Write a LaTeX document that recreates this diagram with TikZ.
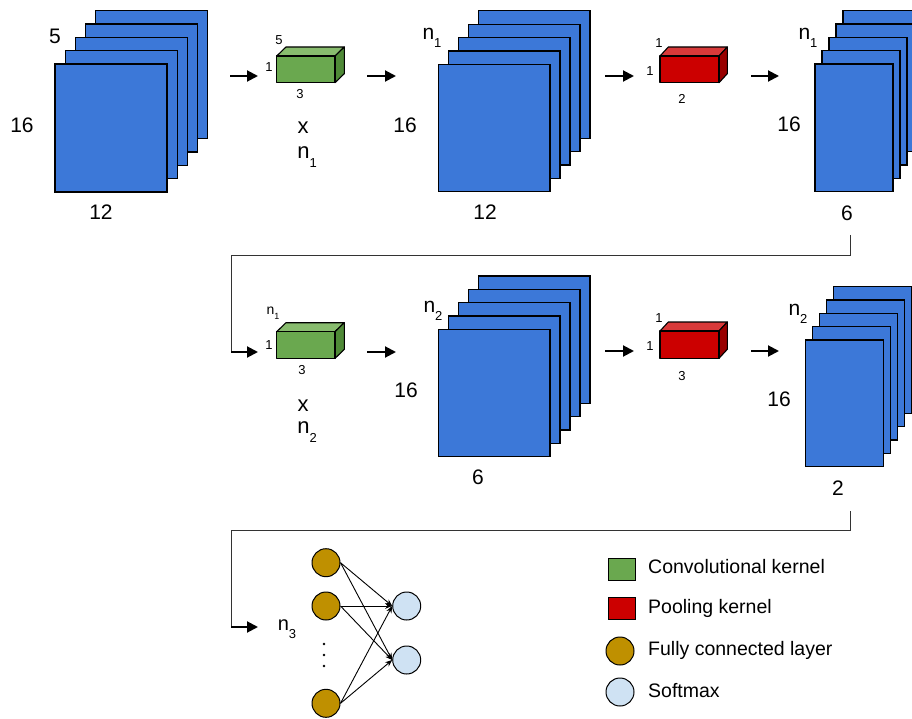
\documentclass[tikz,border=0pt]{standalone}
\usepackage{fontspec}
\setmainfont{Liberation Sans}
\usetikzlibrary{arrows.meta}
\definecolor{fmblue}{HTML}{3C78D8}
\definecolor{kgreen}{HTML}{6AA84F}
\definecolor{kgreentop}{HTML}{88BC6E}
\definecolor{kgreenside}{HTML}{4F8A37}
\definecolor{kred}{HTML}{CC0000}
\definecolor{kredtop}{HTML}{D83A3A}
\definecolor{kredside}{HTML}{990000}
\definecolor{fcbrown}{HTML}{BF9000}
\definecolor{smblue}{HTML}{CFE2F3}
\definecolor{connc}{HTML}{333333}
\newcommand\fmsub[1]{\raisebox{-0.4em}{\fontsize{13}{13}\selectfont #1}}
\newcommand\fmssub[1]{\raisebox{-0.35em}{\fontsize{9}{9}\selectfont #1}}
% stack: name, x, y (top-left of front), w, h, dx
\newcommand\fmstack[6]{%
  \foreach \i in {4,3,2,1,0}{%
    \node[layer, minimum width=#4pt, minimum height=#5pt] (#1-\i) at (#2+\i*#6, #3-\i*13.35) {};
  }%
}
% kernel: name, x, y, w, h, dx, dy, colour prefix
\newcommand\fmkernel[8]{%
  \filldraw[kedge, fill=#8top] (#2,#3) -- (#2+#6,#3-#7) -- (#2+#4+#6,#3-#7) -- (#2+#4,#3) -- cycle;
  \filldraw[kedge, fill=#8side] (#2+#4,#3) -- (#2+#4+#6,#3-#7) -- (#2+#4+#6,#3+#5-#7) -- (#2+#4,#3+#5) -- cycle;
  \node[kedge, fill=#8, anchor=north west, minimum width=#4pt, minimum height=#5pt, inner sep=0pt, outer sep=0pt] (#1) at (#2,#3) {};
}
\begin{document}
\begin{tikzpicture}[x=1pt, y=-1pt,
  layer/.style={draw=black, line width=1.2pt, fill=fmblue, anchor=north west, inner sep=0pt, outer sep=0pt},
  kedge/.style={draw=black, line width=1.1pt, line join=round},
  big/.style={font=\fontsize{21}{21}\selectfont, inner sep=0pt},
  xlab/.style={font=\fontsize{22}{22}\selectfont, inner sep=0pt},
  small/.style={font=\fontsize{13}{13}\selectfont, inner sep=0pt},
  leg/.style={font=\fontsize{19.5}{19.5}\selectfont, inner sep=0pt, anchor=west},
  flow/.style={line width=2pt, -{Triangle[length=11pt, width=11pt]}},
  conn/.style={draw=connc, line width=1pt},
  fc/.style={circle, draw=black, line width=1pt, fill=fcbrown, minimum size=28pt, inner sep=0pt},
  sm/.style={circle, draw=black, line width=1pt, fill=smblue, minimum size=28pt, inner sep=0pt},
  dotn/.style={circle, fill=black, minimum size=2.6pt, inner sep=0pt},
  nn/.style={line width=0.9pt, -{Stealth[length=7pt, width=5.5pt]}}]
\useasboundingbox (0,0) rectangle (912,719);

% ---------- row 1 ----------
\fmstack{s1}{55}{64}{112}{128}{10.2}
\node[big] (s1d) at (55,36) {5};
\node[big] (s1h) at (22,125) {16};
\node[big] (s1w) at (101,212) {12};

\fmkernel{k1}{276.7}{56}{58.3}{26.7}{9.3}{9}{kgreen}
\node[small] (k1d) at (279,40) {5};
\node[small] (k1h) at (269,67) {1};
\node[small] (k1w) at (300,94) {3};
\node[xlab] (k1x) at (303,128) {x};
\node[xlab] (k1n) at (307,157) {n\fmsub{1}};

\fmstack{s2}{438.3}{64.3}{111.7}{127.4}{10}
\node[big] (s2d) at (432,38) {n\fmsub{1}};
\node[big] (s2h) at (405,125) {16};
\node[big] (s2w) at (485,212) {12};

\fmkernel{r1}{660}{56}{59}{26.7}{8.3}{9}{kred}
\node[small] (r1d) at (659,43) {1};
\node[small] (r1h) at (650,71) {1};
\node[small] (r1w) at (682,99) {2};

\fmstack{s3}{815}{64}{78}{127.7}{7}
\node[big] (s3d) at (808,38) {n\fmsub{1}};
\node[big] (s3h) at (789,124) {16};
\node[big] (s3w) at (847,213) {6};

\coordinate (a1s) at (230,76); \coordinate (a1e) at (258,76);
\coordinate (a2s) at (367,76); \coordinate (a2e) at (396,76);
\coordinate (a3s) at (605,76); \coordinate (a3e) at (634,76);
\coordinate (a4s) at (751,76); \coordinate (a4e) at (779,76);
\draw[flow] (a1s) -- (a1e);
\draw[flow] (a2s) -- (a2e);
\draw[flow] (a3s) -- (a3e);
\draw[flow] (a4s) -- (a4e);

% connector 1
\coordinate (c1a) at (850,235);
\coordinate (c1b) at (231,352);
\coordinate (c1e) at (258,352);
\draw[conn] (c1a) |- (231,255) -- (c1b);
\draw[flow] (c1b) -- (c1e);

% ---------- row 2 ----------
\fmkernel{k2}{276.7}{331.7}{58.3}{26.7}{9.3}{9}{kgreen}
\node[font=\fontsize{14}{14}\selectfont, inner sep=0pt] (k2d) at (273,313) {n\fmssub{1}};
\node[small] (k2h) at (269,345) {1};
\node[small] (k2w) at (302,370) {3};
\node[xlab] (k2x) at (303,406) {x};
\node[xlab] (k2n) at (307,432) {n\fmsub{2}};

\fmstack{s4}{438.3}{329.3}{111.7}{127.4}{10}
\node[big] (s4d) at (433,311) {n\fmsub{2}};
\node[big] (s4h) at (406,390) {16};
\node[big] (s4w) at (478,477) {6};

\fmkernel{r2}{660}{331}{59}{27.3}{8.3}{9}{kred}
\node[small] (r2d) at (659,318) {1};
\node[small] (r2h) at (650,346) {1};
\node[small] (r2w) at (682,376) {3};

\fmstack{s5}{805.3}{340}{78.4}{126.7}{7}
\node[big] (s5d) at (798,314) {n\fmsub{2}};
\node[big] (s5h) at (779,399) {16};
\node[big] (s5w) at (838,488) {2};

\coordinate (a5s) at (367,352); \coordinate (a5e) at (396,352);
\coordinate (a6s) at (605,351); \coordinate (a6e) at (634,351);
\coordinate (a7s) at (751,351); \coordinate (a7e) at (779,351);
\draw[flow] (a5s) -- (a5e);
\draw[flow] (a6s) -- (a6e);
\draw[flow] (a7s) -- (a7e);

% connector 2
\coordinate (c2a) at (850,511);
\coordinate (c2b) at (231,627);
\coordinate (c2e) at (258,627);
\draw[conn] (c2a) |- (231,530.7) -- (c2b);
\draw[flow] (c2b) -- (c2e);

% ---------- row 3 ----------
\node[font=\fontsize{20}{20}\selectfont, inner sep=0pt] (n3) at (287,629) {n\fmsub{3}};

\node[fc] (f1) at (326,562.7) {};
\node[fc] (f2) at (326,606) {};
\node[fc] (f3) at (326,703.3) {};
\node[sm] (o1) at (406.7,606) {};
\node[sm] (o2) at (406.7,660) {};
\node[dotn] (d1) at (324,644) {};
\node[dotn] (d2) at (324,655) {};
\node[dotn] (d3) at (324,666) {};

\foreach \f in {f1,f2,f3}{
  \foreach \o in {o1,o2}{
    \draw[nn] (\f.east) -- (\o.west);
  }
}

% ---------- legend ----------
\node[draw=black, line width=1pt, fill=kgreen, minimum width=27pt, minimum height=22pt, inner sep=0pt] (lg1) at (621.6,569.2) {};
\node[leg] (lt1) at (648,567) {Convolutional kernel};
\node[draw=black, line width=1pt, fill=kred, minimum width=27pt, minimum height=22pt, inner sep=0pt] (lg2) at (621.6,608.2) {};
\node[leg] (lt2) at (648,608) {Pooling kernel};
\node[fc] (lg3) at (620,651) {};
\node[leg] (lt3) at (648,650) {Fully connected layer};
\node[sm] (lg4) at (620,692) {};
\node[leg] (lt4) at (648,691) {Softmax};
\end{tikzpicture}
\end{document}
